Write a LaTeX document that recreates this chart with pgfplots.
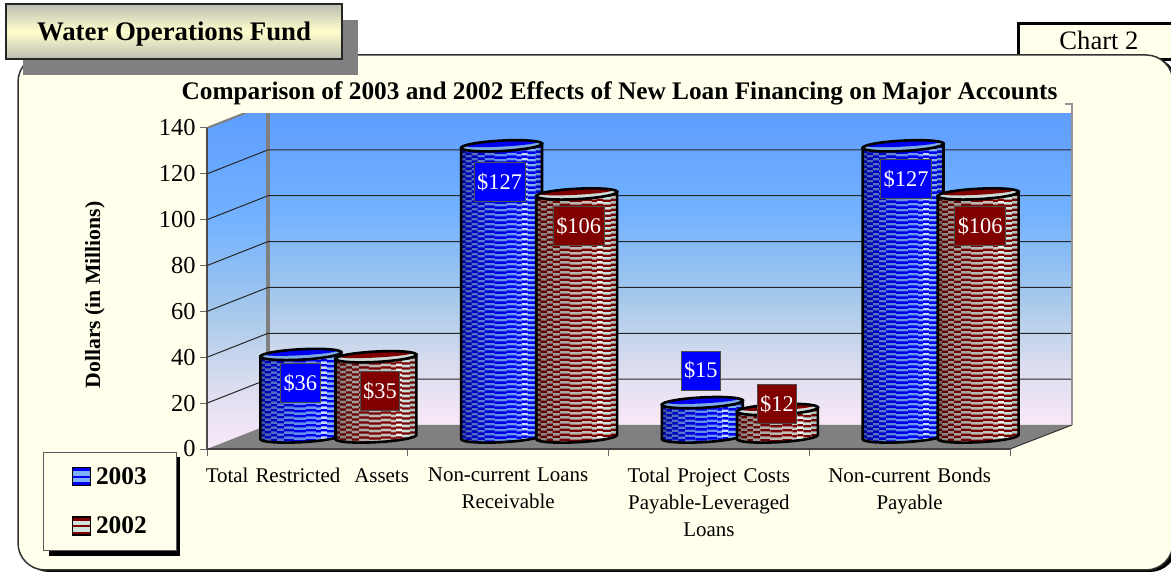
\documentclass[border=0pt]{standalone}
\usepackage{pgfplots}
\pgfplotsset{compat=1.18}
\usepackage{pgfplotstable}
\usepackage{fontspec}
\setmainfont{Liberation Serif}

\definecolor{panel}{RGB}{255,255,235}
\definecolor{floorGray}{RGB}{128,128,128}
\definecolor{boxEdge}{RGB}{188,188,178}
\definecolor{boxMid}{RGB}{255,255,205}
\definecolor{blueDark}{RGB}{0,0,240}
\definecolor{blueLight}{RGB}{125,178,248}
\definecolor{blueTop}{RGB}{125,170,225}
\definecolor{blueLabel}{RGB}{0,0,255}
\definecolor{redDark}{RGB}{128,0,0}
\definecolor{redLight}{RGB}{205,228,224}
\definecolor{redTop}{RGB}{205,218,215}
\definecolor{wallA}{RGB}{250,232,248}
\definecolor{wallB}{RGB}{215,220,238}
\definecolor{wallC}{RGB}{165,200,235}
\definecolor{wallD}{RGB}{115,178,255}
\definecolor{wallE}{RGB}{92,156,255}

\pgfdeclareverticalshading{wall}{100bp}{
  color(0bp)=(wallA);
  color(25bp)=(wallA);
  color(35bp)=(wallB);
  color(45bp)=(wallC);
  color(58bp)=(wallD);
  color(75bp)=(wallE);
  color(100bp)=(wallE)}

\newcommand\fs[2]{\fontsize{#1}{#2}\selectfont}

% values: x, value, label offset from the top of the cylinder (px)
\pgfplotstableread{
x      y    dx    dy
0.313  36  -0.5  -28.5
1.313  127 -2    -36
2.313  15  -1.5   32
3.313  127  3    -33
}\seriesA
\pgfplotstableread{
x      y    dx    dy
0.687  35   4    -34
1.687  106  2    -32
2.687  12  -0.5   5.5
3.687  106  2    -32
}\seriesB

\pgfdeclareplotmark{nil}{}
\newcommand\Pt[2]{\pgfpoint{(#1)*1bp}{(#2)*1bp}}

% one cylinder, drawn from the data point down to value 0
\newcommand\cylpath{%
  \pgfpathmoveto{\Pt{-40.44}{-2.12}}%
  \pgfpathlineto{\Pt{-40.44}{-2.12-\h}}%
  \pgfpathcurveto{\Pt{-40.29}{-4.99-\h}}{\Pt{-22.07}{-6.36-\h}}{\Pt{0.27}{-5.19-\h}}%
  \pgfpathcurveto{\Pt{22.61}{-4.02-\h}}{\Pt{40.59}{-0.75-\h}}{\Pt{40.44}{2.12-\h}}%
  \pgfpathlineto{\Pt{40.44}{2.12}}%
  \pgfpathclose}
\newcommand\cylinder[4]{%
  \pgfmathsetmacro\h{#3*2.293}%
  \pgfmathtruncatemacro\rows{(\h+24)/5}%
  \begin{pgfscope}
    \cylpath\pgfusepath{clip}%
    \foreach \bx/\bw/\off/\blk/\mix in {-41/5/0/.42/100,-36/6/2/.30/100,-30/6/0/.24/100,
        -24/7/2/.18/100,-17/10/0/.12/100,-7/12/1/.05/100,5/10/0/0/100,15/5/1/0/85,
        20/6/0/0/45,26/8/1/.02/95,34/8/0/.15/100}{%
      \pgfsetfillcolor{#2!\mix!white}%
      \pgfpathrectangle{\Pt{\bx}{-\h-12}}{\Pt{\bw+.1}{\h+24}}\pgfusepath{fill}%
      \pgfsetfillcolor{#1}%
      \foreach \r in {0,...,\rows}{%
        \pgfpathrectangle{\Pt{\bx}{8-5*\r-\off}}{\Pt{\bw+.1}{2.4}}}%
      \pgfusepath{fill}%
      \pgfmathparse{\blk>0?1:0}%
      \ifnum\pgfmathresult=1
        \begin{pgfscope}
          \pgfsetfillcolor{black}\pgfsetfillopacity{\blk}%
          \pgfpathrectangle{\Pt{\bx}{-\h-12}}{\Pt{\bw+.1}{\h+24}}\pgfusepath{fill}%
        \end{pgfscope}
      \fi
    }%
    % takes the edge off the stripes
    \pgfsetfillcolor{#1}\pgfsetfillopacity{.15}%
    \pgfpathrectangle{\Pt{-41}{-\h-12}}{\Pt{61}{\h+24}}\pgfusepath{fill}%
  \end{pgfscope}
  \pgfsetstrokecolor{black}\pgfsetlinewidth{2.6bp}%
  \cylpath\pgfusepath{stroke}%
  % open top
  \pgfsetfillcolor{#4}%
  \pgfpathellipse{\pgfpointorigin}{\Pt{40.44}{2.12}}{\Pt{-0.27}{5.19}}\pgfusepath{fill}%
  \pgfsetfillcolor{#1}%
  \pgfpathellipse{\Pt{0}{1.8}}{\Pt{36}{1.9}}{\Pt{-0.1}{2.6}}\pgfusepath{fill}%
  \pgfpathellipse{\pgfpointorigin}{\Pt{40.44}{2.12}}{\Pt{-0.27}{5.19}}\pgfusepath{stroke}%
}

\begin{document}
\begin{tikzpicture}
\path[use as bounding box,clip] (0,0) rectangle (1171bp,572bp);

% page furniture, in pixels of the reference
\begin{scope}[x=1bp,y=-1bp,yshift=572bp]
  \draw[black,line width=3bp,fill=panel] (1018,23.5) rectangle (1180,60);
  \node[font=\fs{26.7}{28}] at (1099,40) {Chart 2};
  \fill[black,rounded corners=27bp] (22,57) rectangle (1177,572);
  \draw[fill=panel,draw=black!80,line width=1.5bp,rounded corners=27bp] (18,55) rectangle (1173,570);

  % walls and floor
  \path[shading=wall] (268,104) rectangle (1071,425);
  \path[shading=wall] (207,128) -- (268,104) -- (268,425) -- (207,449) -- cycle;
  \fill[floorGray] (207,449) -- (268,425) -- (1072,425) -- (1010,449) -- cycle;
  \draw[black!80,line width=1bp] (1010,449) -- (1072,425);
  % title strip
  \draw[gray,line width=2bp] (207,128) -- (268,104);
  \fill[panel] (180,78) rectangle (1071,113);
  \draw[gray,line width=3.5bp] (268,113) -- (268,425);
  \draw[gray!85!white,line width=2bp] (1072,103) -- (1072,425);
  \draw[gray!85!white,line width=2bp] (1065,104) -- (1072,104);
  % legend shadow
  \fill[black] (49,457) rectangle (180,556);
\end{scope}

\begin{axis}[
  at={(207bp,123bp)},
  scale only axis,
  width=803bp,
  height=321bp,
  xmin=0, xmax=4,
  ymin=0, ymax=140,
  clip=false,
  axis x line*=bottom,
  axis y line*=left,
  x axis line style={draw=black!75,line width=1.2bp,-},
  y axis line style={draw=black!70,line width=2bp,-},
  tick align=outside,
  major tick length=7bp,
  tick style={draw=black!60,line width=1bp},
  xtick={0,1,2,3,4},
  x tick label as interval,
  xticklabels={Total Restricted\ \ Assets,Non-current Loans\\Receivable,Total Project Costs\\Payable-Leveraged\\Loans,Non-current Bonds\\Payable},
  xticklabel style={font=\fs{21}{27.5},align=center,text width=210bp,yshift=-8bp},
  ytick={0,20,...,140},
  yticklabel style={font=\fs{24.5}{26},xshift=-1bp,/pgf/number format/assume math mode=true},
  ylabel={\textbf{Dollars (in Millions)}},
  ylabel style={at={(axis description cs:-0.1395,0.48)},anchor=center,font=\fs{21.8}{23}},
  title={\textbf{Comparison of 2003 and 2002 Effects of New Loan Financing on Major Accounts}},
  title style={at={(axis description cs:0.5137,1.0903)},anchor=center,font=\fs{25.4}{27}},
]
  \pgfplotsinvokeforeach{20,40,...,120}{
    \draw[black!85,line width=1bp] (axis cs:0,#1) -- (axis cs:0.304,{#1+10.47}) -- (axis cs:4.304,{#1+10.47});
  }
\end{axis}

% cylinders stand half way back on the floor: same scales, shifted
\begin{axis}[
  at={(238bp,135bp)},
  scale only axis,
  width=803bp,
  height=321bp,
  xmin=0, xmax=4,
  ymin=0, ymax=140,
  clip=false,
  hide axis,
  /pgf/number format/assume math mode=true,
  legend style={at={(-0.2428,-0.0467)},anchor=north west,draw=gray!70!black,line width=1bp,fill=panel,
    font=\fs{25.5}{27}\bfseries,inner xsep=28bp,inner ysep=13bp,row sep=27bp},
  legend cell align=left,
  nodes near coords={\$\pgfmathprintnumber{\pgfplotspointmeta}},
  point meta=y,
  every node near coord/.append style={anchor=center,font=\fs{22.5}{25},text=white,
    draw=black!70,line width=.8bp,minimum height=39bp,inner xsep=3bp,inner ysep=0pt,
    xshift=\dx bp,yshift=\dy bp},
]
  \addplot[scatter,only marks,mark=nil,
    visualization depends on={\thisrow{y}\as\val},
    visualization depends on={\thisrow{dx}\as\dx},
    visualization depends on={\thisrow{dy}\as\dy},
    every node near coord/.append style={fill=blueLabel},
    scatter/@pre marker code/.append code={\cylinder{blueDark}{blueLight}{\val}{blueTop}},
    legend image code/.code={
      \fill[blueDark] (2bp,-9bp) rectangle (20bp,9bp);
      \fill[blueLight] (3bp,1.5bp) rectangle (19bp,5bp) (3bp,-5bp) rectangle (19bp,-1.5bp);
      \draw[black,line width=1.5bp] (2bp,-9bp) rectangle (20bp,9bp);
    }] table[x=x,y=y] {\seriesA};
  \addlegendentry{\hspace{3bp}2003\hspace{-3bp}}
  \addplot[scatter,only marks,mark=nil,
    visualization depends on={\thisrow{y}\as\val},
    visualization depends on={\thisrow{dx}\as\dx},
    visualization depends on={\thisrow{dy}\as\dy},
    every node near coord/.append style={fill=redDark},
    scatter/@pre marker code/.append code={\cylinder{redDark}{redLight}{\val}{redTop}},
    legend image code/.code={
      \fill[redDark] (2bp,-9bp) rectangle (20bp,9bp);
      \fill[redLight] (3bp,1.5bp) rectangle (19bp,5bp) (3bp,-5bp) rectangle (19bp,-1.5bp);
      \draw[black,line width=1.5bp] (2bp,-9bp) rectangle (20bp,9bp);
    }] table[x=x,y=y] {\seriesB};
  \addlegendentry{\hspace{3bp}2002\hspace{-3bp}}
\end{axis}

% heading box on top
\begin{scope}[x=1bp,y=-1bp,yshift=572bp]
  \fill[floorGray] (23,20) rectangle (358,75);
  \shade[top color=boxEdge,bottom color=boxEdge,middle color=boxMid] (6,4) rectangle (342,59);
  \draw[black!85,line width=1.8bp] (6,4) rectangle (342,59);
  \node[font=\fs{26.9}{28}\bfseries] at (174,34.5) {Water Operations Fund};
\end{scope}
\end{tikzpicture}
\end{document}
